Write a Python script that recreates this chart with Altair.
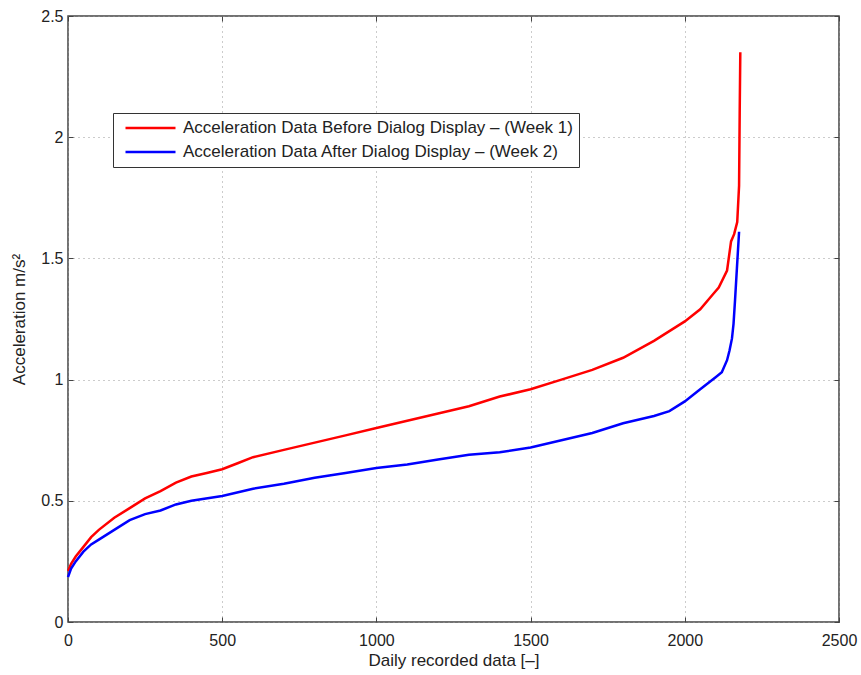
import altair as alt
import pandas as pd

red_label = "Acceleration Data Before Dialog Display – (Week 1)"
blue_label = "Acceleration Data After Dialog Display – (Week 2)"

red_x = [0, 10, 25, 50, 75, 100, 150, 200, 250, 300, 350, 400, 450, 500, 550, 600, 700, 800, 900,
         1000, 1100, 1200, 1300, 1400, 1500, 1600, 1700, 1800, 1900, 1950, 2000, 2050, 2090, 2110,
         2137, 2150, 2160, 2170, 2176, 2178, 2180]
red_y = [0.21, 0.24, 0.27, 0.31, 0.35, 0.38, 0.43, 0.47, 0.51, 0.54, 0.575, 0.60, 0.615, 0.63, 0.655,
         0.68, 0.71, 0.74, 0.77, 0.80, 0.83, 0.86, 0.89, 0.93, 0.96, 1.00, 1.04, 1.09, 1.16, 1.20, 1.24,
         1.29, 1.35, 1.38, 1.45, 1.57, 1.60, 1.65, 1.80, 2.10, 2.35]

blue_x = [0, 10, 25, 50, 75, 100, 150, 200, 250, 300, 350, 400, 500, 600, 700, 800, 900, 1000, 1100,
          1200, 1300, 1400, 1500, 1600, 1700, 1800, 1900, 1950, 2000, 2050, 2100, 2120, 2137, 2145,
          2153, 2158, 2163, 2169, 2176]
blue_y = [0.185, 0.22, 0.25, 0.29, 0.32, 0.34, 0.38, 0.42, 0.445, 0.46, 0.485, 0.50, 0.52, 0.55, 0.57,
          0.595, 0.615, 0.635, 0.65, 0.67, 0.69, 0.70, 0.72, 0.75, 0.78, 0.82, 0.85, 0.87, 0.91, 0.96,
          1.01, 1.03, 1.08, 1.12, 1.17, 1.23, 1.33, 1.46, 1.61]

x_ticks = [0, 500, 1000, 1500, 2000, 2500]
y_ticks = [0, 0.5, 1, 1.5, 2, 2.5]

df = pd.concat([
    pd.DataFrame({"x": red_x, "y": red_y, "series": red_label, "order": range(len(red_x))}),
    pd.DataFrame({"x": blue_x, "y": blue_y, "series": blue_label, "order": range(len(blue_x))}),
])

FONT = "Liberation Sans"
xscale = alt.Scale(domain=[0, 2500], nice=False)
yscale = alt.Scale(domain=[0, 2.5], nice=False)
GRID = dict(grid=True, gridDash=[1, 4], gridColor="#999999", gridWidth=1)
TICK = dict(tickSize=5, offset=-5, tickColor="#444444", tickWidth=1, domain=False)

base = alt.Chart(df)

lines = base.mark_line(strokeWidth=2.5).encode(
    x=alt.X("x:Q", scale=xscale,
            axis=alt.Axis(title="Daily recorded data [–]", values=x_ticks, format="d",
                          labelPadding=10, titlePadding=4, labelFlush=False, **GRID, **TICK)),
    y=alt.Y("y:Q", scale=yscale,
            axis=alt.Axis(title="Acceleration m/s²", values=y_ticks, format="~g",
                          labelPadding=5, titlePadding=12, labelFlush=False, **GRID, **TICK)),
    color=alt.Color("series:N",
                    scale=alt.Scale(domain=[red_label, blue_label], range=["#ff0000", "#0000ff"]),
                    legend=alt.Legend(title=None, orient="none", legendX=45, legendY=97,
                                      symbolType="stroke", symbolSize=2500, symbolStrokeWidth=2.5,
                                      symbolOffset=5, clipHeight=18, strokeColor="#333333",
                                      fillColor="white", padding=6, labelFontSize=17,
                                      labelFont=FONT, labelColor="#222222", rowPadding=6,
                                      labelLimit=600, labelOffset=6)),
    order="order:Q",
)

frame_ticks = base.mark_line(opacity=0).encode(
    x=alt.X("x:Q", scale=xscale,
            axis=alt.Axis(orient="top", title=None, values=x_ticks, labels=False, grid=False, **TICK)),
    y=alt.Y("y:Q", scale=yscale,
            axis=alt.Axis(orient="right", title=None, values=y_ticks, labels=False, grid=False, **TICK)),
    detail="series:N",
    order="order:Q",
)

chart = alt.layer(lines, frame_ticks).resolve_axis(
    x="independent", y="independent"
).properties(
    width=771, height=606,
    padding={"left": 68, "top": 16, "right": 22, "bottom": 53},
    autosize=alt.AutoSizeParams(type="none"),
    background="white",
).configure_view(
    stroke="#444444", strokeWidth=1.5
).configure_axis(
    labelFont=FONT, titleFont=FONT, labelFontSize=16, titleFontSize=17,
    labelColor="#222222", titleColor="#222222", titleFontWeight="normal",
)

chart.save("out.html", embed_options={"renderer": "svg", "actions": False})
